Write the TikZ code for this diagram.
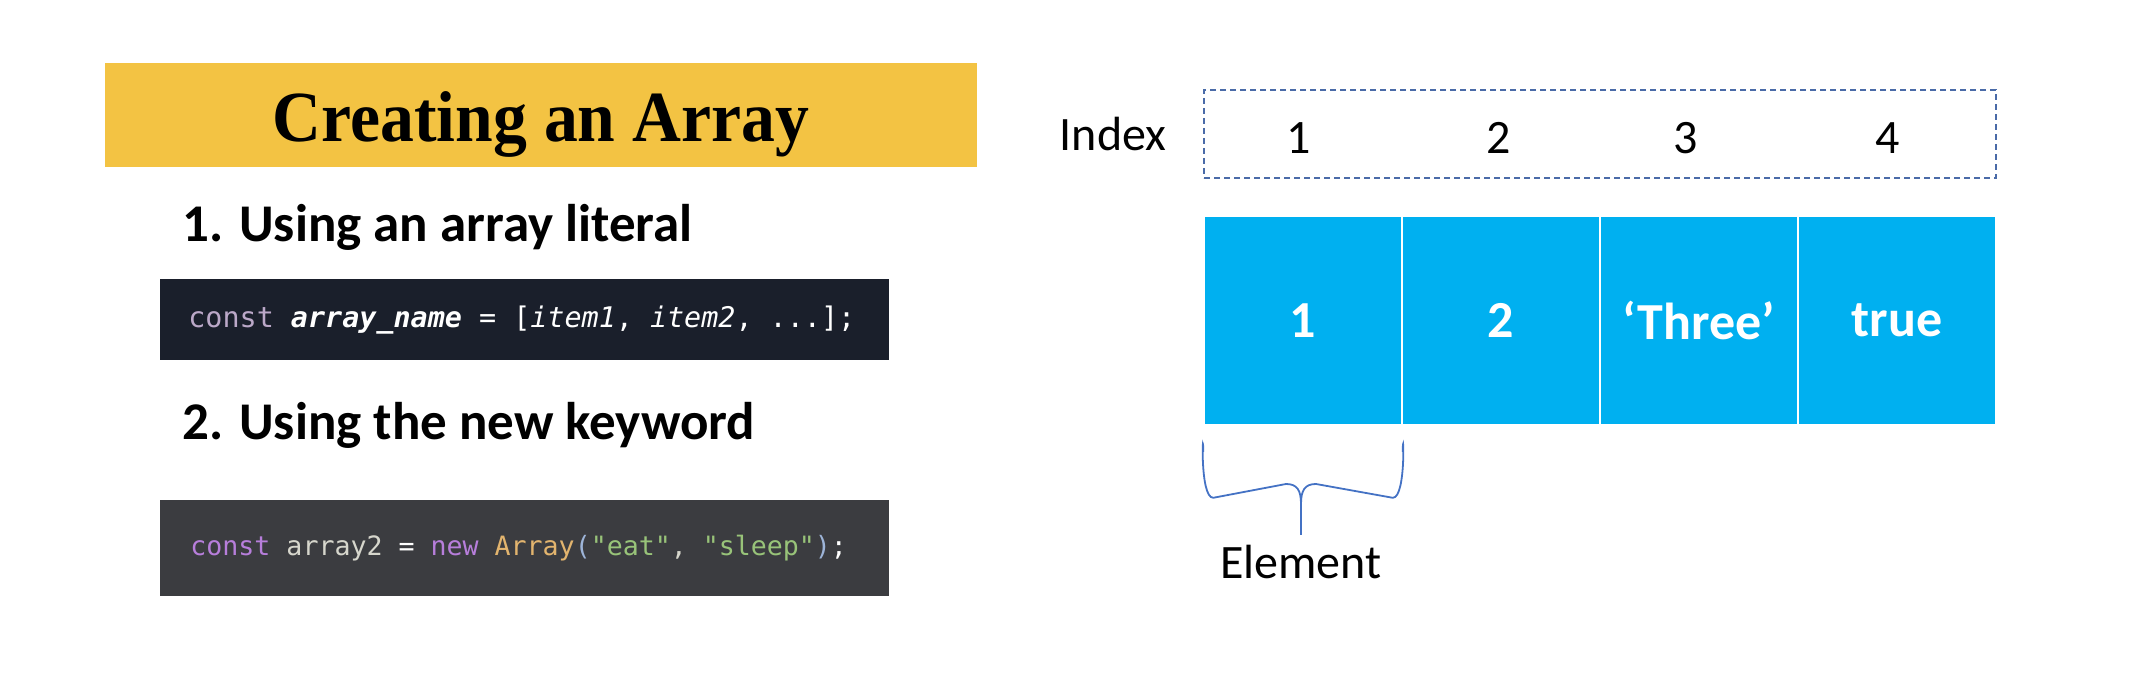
\documentclass[tikz,border=0pt]{standalone}
\usepackage{fontspec}
\setmainfont{Carlito}
\newfontfamily\titlefont{Liberation Serif}
\newfontfamily\codefont{DejaVu Sans Mono}
\definecolor{titlebg}{HTML}{F3C343}
\definecolor{codeA}{HTML}{1A1F2B}
\definecolor{codeB}{HTML}{3B3C40}
\definecolor{cellblue}{HTML}{00B0F0}
\definecolor{dashblue}{HTML}{4A6BA8}
\definecolor{bracecol}{HTML}{4472C4}
\definecolor{constA}{HTML}{BBA8C8}
\definecolor{kwpurple}{HTML}{B77EDB}
\definecolor{vargray}{HTML}{D6D6CC}
\definecolor{classtan}{HTML}{E2B46E}
\definecolor{strgreen}{HTML}{98C379}
\definecolor{parenblue}{HTML}{9DB4D8}
\tikzset{
  heading/.style={anchor=base west, inner sep=0pt, font=\fontsize{26.5}{30}\selectfont\bfseries},
  codebox/.style={anchor=north west, inner sep=0pt},
  codetext/.style={anchor=west, inner sep=0pt, text=white, font=\codefont\fontsize{14.2}{16}\selectfont},
  cellbox/.style={fill=cellblue, draw=white, line width=0.8pt, minimum width=99pt, minimum height=104.5pt, inner sep=0pt, text=white, font=\fontsize{26}{30}\selectfont\bfseries},
  idxnum/.style={inner sep=0pt, font=\fontsize{24}{28}\selectfont},
  bracestyle/.style={draw=bracecol, line width=0.9pt}
}
\begin{document}
\begin{tikzpicture}[x=0.5pt,y=-0.5pt]
\useasboundingbox (0,0) rectangle (2148,694);
% title
\node[fill=titlebg, minimum width=436pt, minimum height=52pt, inner sep=0pt] (title) at (541,115) {};
\node[anchor=base, inner sep=0pt, font=\titlefont\fontsize{36}{40}\selectfont\bfseries] (titletext) at (541,142) {\scalebox{0.94}[1]{Creating an Array}};
% headings
\node[heading] (h1) at (182,242) {1. Using an array literal};
\node[heading] (h2) at (182,440) {2. Using the new keyword};
% code boxes
\node[codebox, fill=codeA, minimum width=364.5pt, minimum height=40.5pt] (code1) at (160,279) {};
\node[codetext] (c1text) at (188,320) {{\color{constA}const} {\bfseries\itshape array\_name} = [{\itshape item1}, {\itshape item2}, ...];};
\node[codebox, fill=codeB, minimum width=364.5pt, minimum height=48pt] (code2) at (160,500) {};
\node[codetext, font=\codefont\fontsize{13.3}{16}\selectfont] (c2text) at (190,548) {{\color{kwpurple}const} {\color{vargray}array2} = {\color{kwpurple}new} {\color{classtan}Array}{\color{parenblue}(}{\color{strgreen}"eat"}{\color{vargray},} {\color{strgreen}"sleep"}{\color{parenblue})};};
% index
\node[idxnum] (indexlbl) at (1113,134) {Index};
\node[draw=dashblue, line width=0.9pt, dash pattern=on 3pt off 2pt, minimum width=396pt, minimum height=44pt, inner sep=0pt] (idxbox) at (1600,134) {};
\node[idxnum] (i1) at (1299,138) {1};
\node[idxnum] (i2) at (1499,138) {2};
\node[idxnum] (i3) at (1686,138) {3};
\node[idxnum] (i4) at (1888,138) {4};
% cells
\node[cellbox] (cell1) at (1303,320.5) {1};
\node[cellbox] (cell2) at (1501,320.5) {2};
\node[cellbox] (cell3) at (1699,320.5) {`Three'};
\node[cellbox] (cell4) at (1897,320.5) {true};
% brace
\node[idxnum] (element) at (1301,562) {Element};
\coordinate (bl) at ([yshift=-13pt]cell1.south west);
\coordinate (br) at ([yshift=-13pt]cell1.south east);
\coordinate (tip) at ([yshift=5pt]element.north);
\draw[bracestyle] (bl) .. controls ++(0,-32) and ++(-14,0) .. ++(10,46) -- (1286,484) .. controls (1297,484) and (1301,490) .. (1301,504) -- (tip);
\draw[bracestyle] (br) .. controls ++(0,-32) and ++(14,0) .. ++(-10,46) -- (1316,484) .. controls (1305,484) and (1301,490) .. (1301,504);
\end{tikzpicture}
\end{document}
